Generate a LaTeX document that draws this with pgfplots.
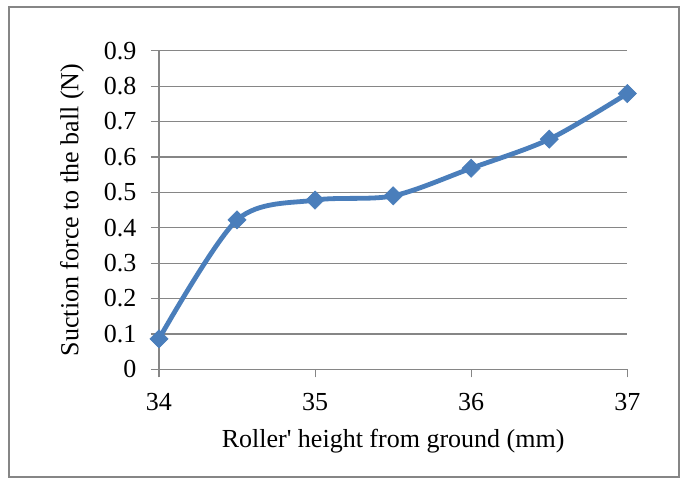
\documentclass[border=0pt]{standalone}
\usepackage{fontspec}
\setmainfont{Liberation Serif}[Ligatures=TeXOff]
\usepackage{pgfplots}
\pgfplotsset{compat=1.18}
\definecolor{excelblue}{HTML}{4A7EBB}
\definecolor{gridgray}{HTML}{868686}
\newcommand{\px}{0.75pt}
\begin{document}
\begin{tikzpicture}
\fill[white] (0,0) rectangle (686*\px,-484*\px);
\draw[gridgray, line width=1.1pt] (9*\px,-7*\px) rectangle (679*\px,-477*\px);
\begin{axis}[
  at={(159*\px,-369.3*\px)}, anchor=south west,
  scale only axis,
  width=468.3*\px, height=318.6*\px,
  xmin=34, xmax=37, ymin=0, ymax=0.9,
  xtick={34,35,36,37},
  ytick={0,0.1,0.2,0.3,0.4,0.5,0.6,0.7,0.8,0.9},
  yticklabels={0,0.1,0.2,0.3,0.4,0.5,0.6,0.7,0.8,0.9},
  axis lines*=left,
  axis line style={gridgray, line width=0.9pt},
  tick align=outside,
  major tick length=6pt,
  tick style={gridgray, line width=0.9pt},
  ymajorgrids,
  grid style={gridgray, line width=0.9pt},
  tick label style={font=\fontsize{19.5}{22}\selectfont},
  label style={font=\fontsize{19.5}{22}\selectfont},
  /pgf/number format/assume math mode=true,
  yticklabel style={anchor=east, xshift=-7.5pt},
  xticklabel style={anchor=base, yshift=-25pt},
  xlabel={Roller' height from ground (mm)},
  ylabel={Suction force to the ball (N)},
  xlabel style={at={(axis description cs:0.5,-0.244)}, anchor=base},
  ylabel style={at={(axis description cs:-0.186,0.5)}, anchor=center},
  clip=false,
]
\addplot[excelblue, line width=3.6pt, smooth, mark=square*,
  mark size=4.8pt, mark options={solid, rotate=45, line width=0.5pt, fill=excelblue}]
  coordinates {(34,0.086) (34.5,0.422) (35,0.478) (35.5,0.490) (36,0.568) (36.5,0.650) (37,0.779)};
\end{axis}
\end{tikzpicture}
\end{document}
